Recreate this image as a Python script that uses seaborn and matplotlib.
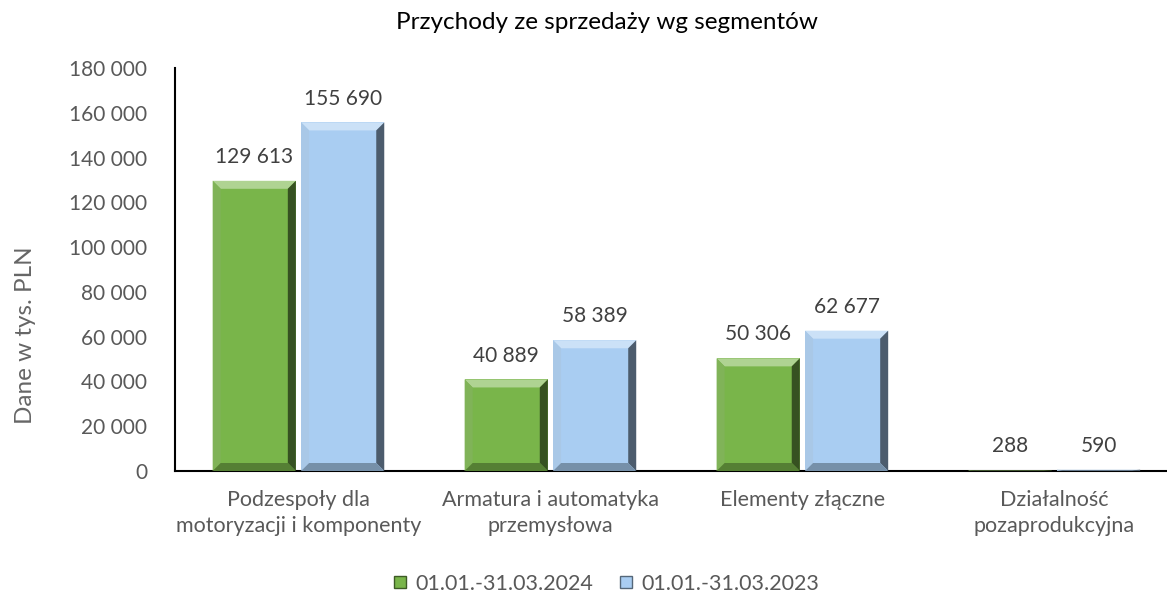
import pandas as pd
import matplotlib.pyplot as plt
import seaborn as sns
from matplotlib.patches import Polygon
from matplotlib.lines import Line2D
import matplotlib.colors as mcolors

# Data
segments = ["Podzespoły dla\nmotoryzacji i komponenty",
            "Armatura i automatyka\nprzemysłowa",
            "Elementy złączne",
            "Działalność\npozaprodukcyjna"]
periods = ["01.01.-31.03.2024", "01.01.-31.03.2023"]
values_2024 = [129613, 40889, 50306, 288]
values_2023 = [155690, 58389, 62677, 590]
colors = ["#79b54a", "#a9cdf2"]

df = pd.DataFrame({
    "segment": segments * 2,
    "period": [periods[0]] * 4 + [periods[1]] * 4,
    "value": values_2024 + values_2023,
})

sns.set_theme(style="white")
plt.rcParams['font.family'] = ['Lato', 'DejaVu Sans']

fig = plt.figure(figsize=(11.67, 5.93), dpi=100)
ax = fig.add_axes([175 / 1167, 122 / 593, 992 / 1167, 403 / 593])

sns.barplot(data=df, x="segment", y="value", hue="period", palette=colors,
            saturation=1, width=0.702, gap=0.06, ax=ax, legend=False, linewidth=0)

ax.set_ylim(0, 180000)
ax.set_xlim(-0.49, 3.447)
ax.set_yticks(range(0, 180001, 20000))
ax.set_yticklabels([f"{v:,}".replace(",", " ") for v in range(0, 180001, 20000)],
                   fontsize=15, color="#595959")
ax.tick_params(axis="x", labelsize=15.5, labelcolor="#595959", pad=14, length=0)
ax.tick_params(axis="y", length=0, pad=20)
for lbl in ax.get_xticklabels():
    lbl.set_linespacing(1.35)
ax.set_xlabel("")
ax.set_ylabel("Dane w tys. PLN", fontsize=17.5, color="#666666")
ax.yaxis.set_label_coords(-0.14, 0.337)
for s in ["top", "right"]:
    ax.spines[s].set_visible(False)
ax.spines["left"].set_color("black")
ax.spines["bottom"].set_color("black")
ax.spines["left"].set_linewidth(1.5)
ax.spines["bottom"].set_linewidth(1.5)

# simple bevel on each bar
dx = 8 / 252
dy_full = 8 * 180000 / 403
for patch in ax.patches:
    x0, y0 = patch.get_x(), patch.get_y()
    w, h = patch.get_width(), patch.get_height()
    if h <= 0:
        continue
    base = mcolors.to_rgb(patch.get_facecolor())
    dy = min(dy_full, h / 2)
    light = tuple(min(1, c * 0.6 + 0.4) for c in base)
    left_c = tuple(min(1, c * 0.85 + 0.1) for c in base)
    dark = tuple(c * 0.45 for c in base)
    mid_dark = tuple(c * 0.7 for c in base)
    x1, y1 = x0 + w, y0 + h
    shapes = [
        ([(x0, y1), (x1, y1), (x1 - dx, y1 - dy), (x0 + dx, y1 - dy)], light),
        ([(x0, y0), (x0, y1), (x0 + dx, y1 - dy), (x0 + dx, y0 + dy)], left_c),
        ([(x1, y0), (x1, y1), (x1 - dx, y1 - dy), (x1 - dx, y0 + dy)], dark),
        ([(x0, y0), (x1, y0), (x1 - dx, y0 + dy), (x0 + dx, y0 + dy)], mid_dark),
    ]
    for pts, col in shapes:
        ax.add_patch(Polygon(pts, closed=True, facecolor=col, edgecolor="none", zorder=3))

for container in ax.containers:
    ax.bar_label(container, labels=[f"{v:,.0f}".replace(",", " ") for v in container.datavalues],
                 padding=10, fontsize=15, color="#404040")

fig.suptitle("Przychody ze sprzedaży wg segmentów", fontsize=17.5, color="black",
             x=0.52, y=0.98)

handles = [Line2D([], [], marker="s", linestyle="none", markersize=9,
                  markerfacecolor=c, markeredgecolor=tuple(x * 0.5 for x in mcolors.to_rgb(c)))
           for c in colors]
fig.legend(handles, periods, loc="lower center", ncol=2, frameon=False,
           fontsize=15.5, labelcolor="#595959", handletextpad=-0.3, columnspacing=0.55,
           bbox_to_anchor=(0.513, -0.034))

fig.savefig("out.png", dpi=100)
